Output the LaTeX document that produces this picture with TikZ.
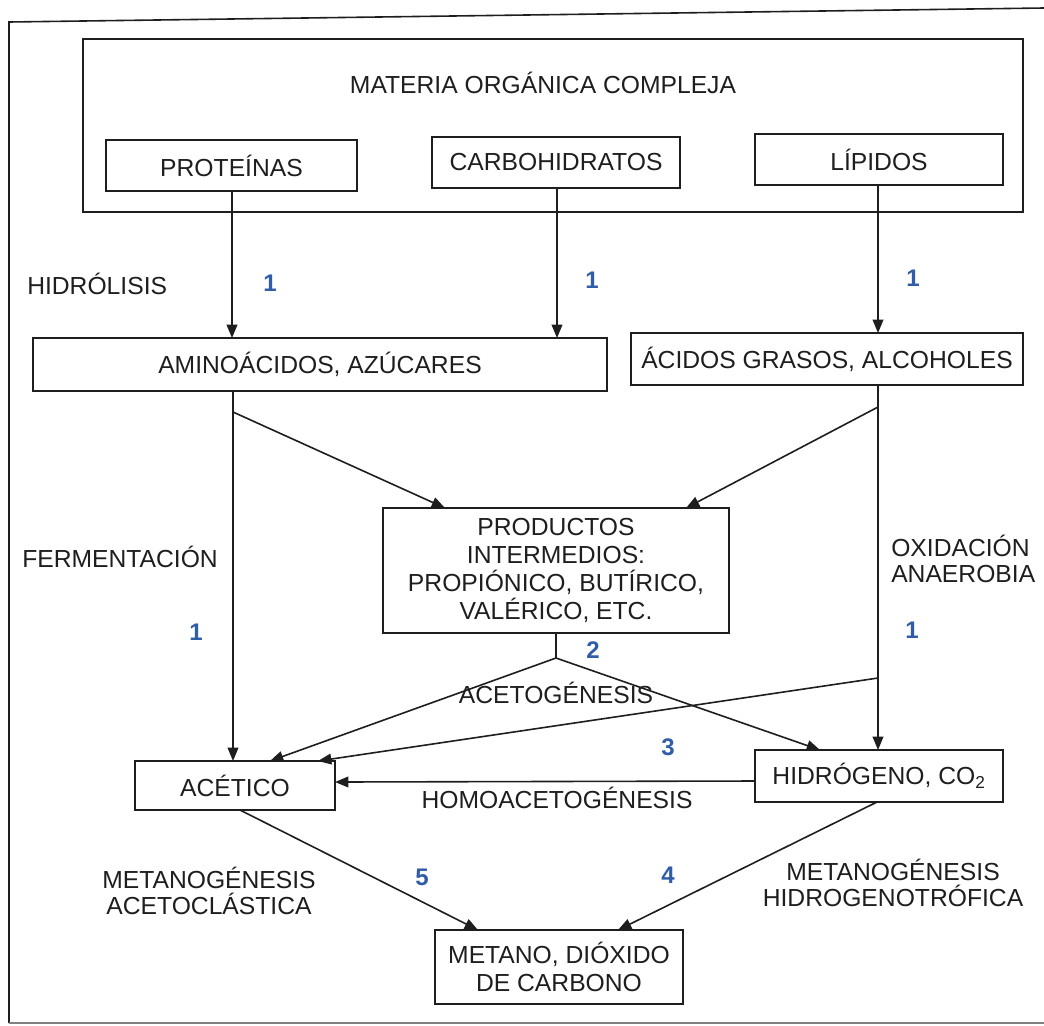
\documentclass[tikz,border=0pt]{standalone}
\usepackage{fontspec}
\setmainfont{Liberation Sans}
\usetikzlibrary{arrows.meta}
\definecolor{ink}{HTML}{1E1E1E}
\definecolor{numblue}{HTML}{2F5DA8}
\tikzset{
  box/.style={draw=ink, line width=1.2pt, rectangle, inner sep=0pt, align=center,
    font=\fontsize{18.5}{21}\selectfont, text=ink},
  lbl/.style={inner sep=0pt, font=\fontsize{18.5}{20}\selectfont, text=ink},
  num/.style={inner sep=0pt, font=\fontsize{18}{20}\selectfont\bfseries, text=numblue},
  con/.style={draw=ink, line width=1.2pt},
  arr/.style={con, -{Triangle[length=10pt,width=8pt]}}
}
\begin{document}
\begin{tikzpicture}[x=0.75pt,y=-0.75pt]
\useasboundingbox (0,0) rectangle (1044,1025);
% outer frame
\coordinate (f1) at (1044,8);
\coordinate (f2) at (9,22);
\coordinate (f3) at (9,1023);
\coordinate (f4) at (1044,1023);
\draw[con] (f1) -- (f2) -- (f3);
\draw[draw=gray, line width=1.2pt] (f3) -- (f4);
% boxes
\node[box, minimum width=705pt, minimum height=129.75pt] (mat) at (553,125.5) {};
\node[lbl] (mattxt) at (543,83) {MATERIA ORGÁNICA COMPLEJA};
\node[box, minimum width=188.25pt, minimum height=38.25pt] (prot) at (231.5,165.5) {PROTEÍNAS};
\node[box, minimum width=186pt, minimum height=38.25pt] (carb) at (556,162.5) {CARBOHIDRATOS};
\node[box, minimum width=186pt, minimum height=38.25pt] (lip) at (879,159.5) {LÍPIDOS};
\node[box, minimum width=430.5pt, minimum height=39.75pt] (amino) at (320,364.5) {AMINOÁCIDOS, AZÚCARES};
\node[box, minimum width=294pt, minimum height=39pt] (acid) at (827,359) {ÁCIDOS GRASOS, ALCOHOLES};
\node[box, minimum width=259.5pt, minimum height=93.75pt] (prod) at (556,570.5) {PRODUCTOS\\INTERMEDIOS:\\PROPIÓNICO, BUTÍRICO,\\VALÉRICO, ETC.};
\node[box, minimum width=150pt, minimum height=36.75pt] (acet) at (235,785.5) {ACÉTICO};
\node[box, minimum width=186pt, minimum height=39pt] (hidr) at (879,776) {HIDRÓGENO, CO\textsubscript{2}};
\node[box, minimum width=186pt, minimum height=55.5pt] (meta) at (559,967) {METANO, DIÓXIDO\\DE CARBONO};
% helper coordinates
\coordinate (ps) at (232,191);
\coordinate (pe) at (232,338);
\coordinate (cs) at (557,188);
\coordinate (ce) at (557,338);
\coordinate (ls) at (878,185);
\coordinate (le) at (878,333);
\coordinate (as) at (233,391);
\coordinate (ae) at (233,761);
\coordinate (ad) at (233,412);
\coordinate (pin1) at (445,508);
\coordinate (gs) at (878,385);
\coordinate (ge) at (878,750);
\coordinate (gd) at (878,407);
\coordinate (pin2) at (686,508);
\coordinate (pb) at (556,633);
\coordinate (split) at (556,658);
\coordinate (acin1) at (270,761);
\coordinate (hin1) at (820,750);
\coordinate (ox) at (878,678);
\coordinate (acin2) at (318,761);
\coordinate (hw) at (755,781);
\coordinate (ace) at (335,782);
\coordinate (acb) at (240,810);
\coordinate (min1) at (478,930);
\coordinate (hb) at (877,802);
\coordinate (min2) at (618,930);
% connectors
\draw[arr] (ps) -- (pe);
\draw[arr] (cs) -- (ce);
\draw[arr] (ls) -- (le);
\draw[arr] (as) -- (ae);
\draw[arr] (ad) -- (pin1);
\draw[arr] (gs) -- (ge);
\draw[arr] (gd) -- (pin2);
\draw[con] (pb) -- (split);
\draw[arr] (split) -- (acin1);
\draw[arr] (split) -- (hin1);
\draw[arr] (ox) -- (acin2);
\draw[arr] (hw) -- (ace);
\draw[arr] (acb) -- (min1);
\draw[arr] (hb) -- (min2);
% labels
\node[lbl, anchor=west] (hidro) at (27,284) {HIDRÓLISIS};
\node[lbl, anchor=west] (ferm) at (22,557) {FERMENTACIÓN};
\node[lbl, anchor=west, align=left] (oxid) at (891,559) {OXIDACIÓN\\ANAEROBIA};
\node[lbl] (acetog) at (556,693) {ACETOGÉNESIS};
\node[lbl] (homo) at (557,798) {HOMOACETOGÉNESIS};
\node[lbl, align=center] (metac) at (209,891) {METANOGÉNESIS\\ACETOCLÁSTICA};
\node[lbl, align=center] (methid) at (893,883) {METANOGÉNESIS\\HIDROGENOTRÓFICA};
% numbers
\node[num] (n1a) at (270,283) {1};
\node[num] (n1b) at (592,280) {1};
\node[num] (n1c) at (913,278) {1};
\node[num] (n1d) at (196,632) {1};
\node[num] (n1e) at (912,630) {1};
\node[num] (n2) at (593,650) {2};
\node[num] (n3) at (668,747) {3};
\node[num] (n4) at (668,875) {4};
\node[num] (n5) at (422,877) {5};
\end{tikzpicture}
\end{document}
